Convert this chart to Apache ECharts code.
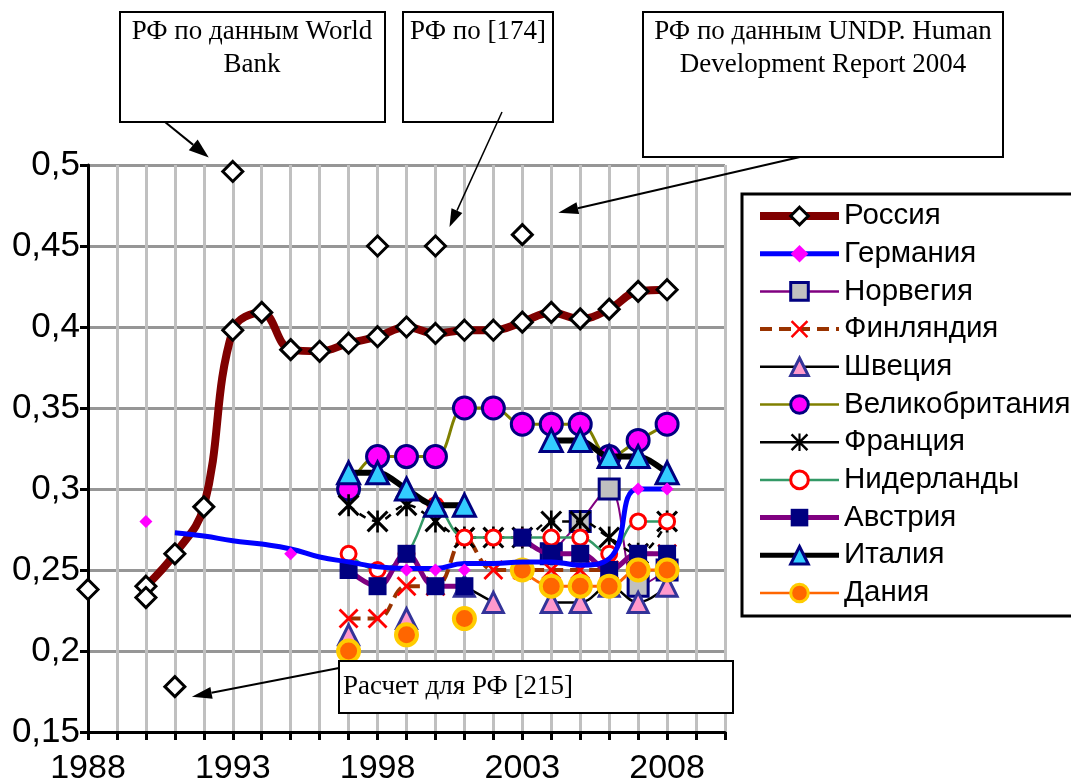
<!DOCTYPE html>
<html><head><meta charset="utf-8">
<script src="https://cdn.jsdelivr.net/npm/echarts@6/dist/echarts.min.js"></script>
<style>html,body{margin:0;padding:0;background:#fff}#c{width:1071px;height:783px}</style>
</head><body><div id="c"></div>
<script>
// ---------- data ----------
const years = [1997,1998,1999,2000,2001,2002,2003,2004,2005,2006,2007,2008];
const russiaYears = [1990,1991,1992,1993,1994,1995,1996,1997,1998,1999,2000,2001,2002,2003,2004,2005,2006,2007,2008];
const russia = [0.240,0.260,0.289,0.398,0.409,0.386,0.385,0.390,0.394,0.400,0.396,0.398,0.398,0.403,0.409,0.405,0.411,0.422,0.423];
const russiaOtherYears = [1988,1990,1991,1993,1998,2000,2003];
const russiaOther = [0.238,0.233,0.178,0.496,0.450,0.450,0.457];
const germanyYears = [1991,1992,1993,1994,1995,1996,1997,1998,1999,2000,2001,2002,2003,2004,2005,2006,2007,2008];
const germany = [0.273,0.271,0.268,0.266,0.263,0.258,0.255,0.252,0.251,0.251,0.254,0.254,0.255,0.255,0.253,0.257,0.300,0.300];
const germanyPointYears = [1990,1995,1999,2000,2001,2007,2008];
const germanyPoints = [0.280,0.260,0.250,0.250,0.250,0.300,0.300];
const norway      = [null,null,null,null,null,null,null,0.26,0.28,0.30,0.24,0.25];
const finland     = [0.22,0.22,0.24,0.24,0.27,0.25,0.25,0.25,0.25,0.25,0.26,0.26];
const sweden      = [0.21,null,0.22,null,0.24,0.23,null,0.23,0.23,0.24,0.23,0.24];
const uk          = [0.30,0.32,0.32,0.32,0.35,0.35,0.34,0.34,0.34,0.32,0.33,0.34];
const france      = [0.29,0.28,0.29,0.28,0.27,0.27,0.27,0.28,0.28,0.27,0.26,0.28];
const netherlands = [0.26,0.25,0.26,0.29,0.27,0.27,0.27,0.27,0.27,0.26,0.28,0.28];
const austria     = [0.25,0.24,0.26,0.24,0.24,null,0.27,0.26,0.26,0.25,0.26,0.26];
const italy       = [0.31,0.31,0.30,0.29,0.29,null,null,0.33,0.33,0.32,0.32,0.31];
const denmark     = [0.20,null,0.21,null,0.22,null,0.25,0.24,0.24,0.24,0.25,0.25];
const xLabelYears = [1988,1993,1998,2003,2008];
const legendNames = ['Россия','Германия','Норвегия','Финляндия','Швеция','Великобритания','Франция','Нидерланды','Австрия','Италия','Дания'];

// ---------- helpers ----------
const pairs = (xs, ys) => xs.map((x, i) => [x, ys[i] == null ? '-' : ys[i]]);
const SANS = '"Liberation Sans", Arial, sans-serif';
const SERIF = '"Liberation Serif", "Times New Roman", serif';
const X_PATH = 'path://M0,1 L1,0 L5,4 L9,0 L10,1 L6,5 L10,9 L9,10 L5,6 L1,10 L0,9 L4,5 Z';
const STAR_PATH = 'path://M4.4,0 L5.6,0 L5.6,10 L4.4,10 Z M0,1 L1,0 L10,9 L9,10 Z M9,0 L10,1 L1,10 L0,9 Z';

function line(name, xs, ys, o) {
  return Object.assign({
    type: 'line', name, data: pairs(xs, ys), smooth: 0.4, connectNulls: false,
    showAllSymbol: true, animation: false, emphasis: { disabled: true }
  }, o);
}

const series = [
  line('Россия', russiaYears, russia, {
    z: 2, symbol: 'diamond', symbolSize: 20,
    lineStyle: { color: '#800000', width: 8 },
    itemStyle: { color: '#fff', borderColor: '#000', borderWidth: 3 }
  }),
  line('Норвегия', years, norway, {
    z: 3, symbol: 'rect', symbolSize: 20,
    lineStyle: { color: '#800080', width: 2 },
    itemStyle: { color: '#C0C0C0', borderColor: '#000080', borderWidth: 3 }
  }),
  line('Финляндия', years, finland, {
    z: 4, symbol: X_PATH, symbolSize: 20,
    lineStyle: { color: '#993300', width: 4, type: [12, 7] },
    itemStyle: { color: '#FF0000' }
  }),
  line('Швеция', years, sweden, {
    z: 5, symbol: 'triangle', symbolSize: 20,
    lineStyle: { color: '#000', width: 2.5 },
    itemStyle: { color: '#FF99CC', borderColor: '#333399', borderWidth: 3 }
  }),
  line('Великобритания', years, uk, {
    z: 6, symbol: 'circle', symbolSize: 22,
    lineStyle: { color: '#808000', width: 3 },
    itemStyle: { color: '#FF00FF', borderColor: '#000080', borderWidth: 3 }
  }),
  line('Франция', years, france, {
    z: 7, symbol: STAR_PATH, symbolSize: 22,
    lineStyle: { color: '#000', width: 2.5, type: [7, 7] },
    itemStyle: { color: '#000' }
  }),
  line('Нидерланды', years, netherlands, {
    z: 8, symbol: 'circle', symbolSize: 15,
    lineStyle: { color: '#339966', width: 2.5 },
    itemStyle: { color: '#fff', borderColor: '#FF0000', borderWidth: 3 }
  }),
  line('Австрия', years, austria, {
    z: 9, symbol: 'rect', symbolSize: 18,
    lineStyle: { color: '#800080', width: 5 },
    itemStyle: { color: '#000080' }
  }),
  line('Италия', years, italy, {
    z: 10, symbol: 'triangle', symbolSize: 22, smooth: 0.3,
    lineStyle: { color: '#000', width: 6 },
    itemStyle: { color: '#33CCFF', borderColor: '#000080', borderWidth: 3 }
  }),
  line('Дания', years, denmark, {
    z: 11, symbol: 'circle', symbolSize: 21,
    lineStyle: { color: '#FF6600', width: 3 },
    itemStyle: { color: '#FF6600', borderColor: '#FFCC00', borderWidth: 4 }
  }),
  line('Германия', germanyYears, germany, {
    z: 12, symbol: 'diamond', symbolSize: 12, showSymbol: false, smooth: 0.5,
    lineStyle: { color: '#0000FF', width: 5 },
    itemStyle: { color: '#FF00FF' }
  }),
  {
    type: 'scatter', name: 'Германия (точки)', z: 13, animation: false,
    data: pairs(germanyPointYears, germanyPoints), symbol: 'diamond', symbolSize: 13,
    itemStyle: { color: '#FF00FF', opacity: 1 }, emphasis: { disabled: true }
  },
  {
    type: 'scatter', name: 'Россия (другие оценки)', z: 14, animation: false,
    data: pairs(russiaOtherYears, russiaOther), symbol: 'diamond', symbolSize: 20,
    itemStyle: { color: '#fff', borderColor: '#000', borderWidth: 3, opacity: 1 }, emphasis: { disabled: true }
  }
];

const legendStyle = {
  'Россия': { lineStyle: { width: 8 }, itemStyle: { borderWidth: 3 } },
  'Германия': { lineStyle: { width: 5 } },
  'Норвегия': { lineStyle: { width: 2.5 }, itemStyle: { borderWidth: 3 } },
  'Финляндия': { lineStyle: { width: 4 } },
  'Швеция': { lineStyle: { width: 2.5 }, itemStyle: { borderWidth: 3 } },
  'Великобритания': { lineStyle: { width: 2.5 }, itemStyle: { borderWidth: 3 } },
  'Франция': { lineStyle: { width: 2.5, type: 'solid' } },
  'Нидерланды': { lineStyle: { width: 2.5 }, itemStyle: { borderWidth: 3 } },
  'Австрия': { lineStyle: { width: 5 } },
  'Италия': { lineStyle: { width: 5 }, itemStyle: { borderWidth: 3 } },
  'Дания': { lineStyle: { width: 2.5 }, itemStyle: { borderWidth: 3 } }
};

const option = {
  backgroundColor: '#fff',
  animation: false,
  grid: { left: 88, top: 165, right: 346, bottom: 51, containLabel: false, outerBoundsMode: 'none' },
  xAxis: {
    type: 'value', min: 1988, max: 2010, interval: 1,
    axisLine: { lineStyle: { color: '#000', width: 3 } },
    axisTick: { length: 8, lineStyle: { color: '#000', width: 3 } },
    axisLabel: {
      margin: 20, color: '#000', fontSize: 34, fontFamily: SANS,
      formatter: v => xLabelYears.includes(v) ? String(v) : ''
    },
    splitLine: { show: true, lineStyle: { color: '#C0C0C0', width: 3 } }
  },
  yAxis: {
    type: 'value', min: 0.15, max: 0.5, interval: 0.05,
    axisLine: { show: true, lineStyle: { color: '#000', width: 3 } },
    axisTick: { show: true, length: 8, lineStyle: { color: '#000', width: 3 } },
    axisLabel: {
      margin: 8, color: '#000', fontSize: 35, fontFamily: SANS,
      formatter: v => String(+v.toFixed(2)).replace('.', ',')
    },
    splitLine: { show: true, lineStyle: { color: '#969696', width: 3 } }
  },
  legend: {
    orient: 'vertical', left: 742, top: 194, padding: [7, 40, 8, 14],
    itemWidth: 79, itemHeight: 22, itemGap: 7.7,
    borderColor: '#000', borderWidth: 3, backgroundColor: '#fff',
    selectedMode: false,
    textStyle: { fontSize: 29.5, fontFamily: SANS, color: '#000', lineHeight: 30 },
    data: legendNames.map(n => Object.assign({ name: n }, legendStyle[n]))
  },
  series
};

const chart = echarts.init(document.getElementById('c'), null, { renderer: 'canvas' });
chart.setOption(option);

// ---------- annotations ----------
const px = (x, y) => chart.convertToPixel({ gridIndex: 0 }, [x, y]);
function arrow(x1, y1, tip, off, lw, head, half) {
  const x2 = tip[0] + off[0], y2 = tip[1] + off[1];
  const dx = x2 - x1, dy = y2 - y1, L = Math.hypot(dx, dy), ux = dx / L, uy = dy / L;
  const bx = x2 - ux * head, by = y2 - uy * head;
  return [
    { type: 'line', z: 100, shape: { x1, y1, x2: bx, y2: by }, style: { stroke: '#000', lineWidth: lw } },
    { type: 'polygon', z: 100, shape: { points: [[x2, y2], [bx - uy * half, by + ux * half], [bx + uy * half, by - ux * half]] }, style: { fill: '#000' } }
  ];
}
function box(x, y, w, h) {
  return { type: 'rect', z: 99, shape: { x, y, width: w, height: h }, style: { fill: '#fff', stroke: '#000', lineWidth: 2 } };
}
function txt(text, x, y, align) {
  return { type: 'text', z: 101, style: { text, x, y, textAlign: align, textVerticalAlign: 'top', fontSize: 27, fontFamily: SERIF, fill: '#000', lineHeight: 33 } };
}
const graphic = [
  box(120, 12, 265, 110), txt('РФ по данным World\nBank', 252, 15, 'center'),
  box(403, 12, 150, 110), txt('РФ по [174]', 478, 15, 'center'),
  box(643, 12, 360, 145), txt('РФ по данным UNDP. Human\nDevelopment Report 2004', 823, 15, 'center'),
  box(339, 661, 394, 52), txt('Расчет для РФ [215]', 343, 670, 'left'),
  ...arrow(165, 122, px(1993, 0.496), [-24, -14], 2, 20, 7),
  ...arrow(502, 112, px(2000, 0.45), [14, -19], 1.5, 18, 6),
  ...arrow(800, 157, px(2003, 0.457), [36, -22], 2, 20, 6),
  ...arrow(339, 668, px(1991, 0.178), [17, 10], 2, 20, 6)
];
chart.setOption({ graphic });
</script>
</body></html>
